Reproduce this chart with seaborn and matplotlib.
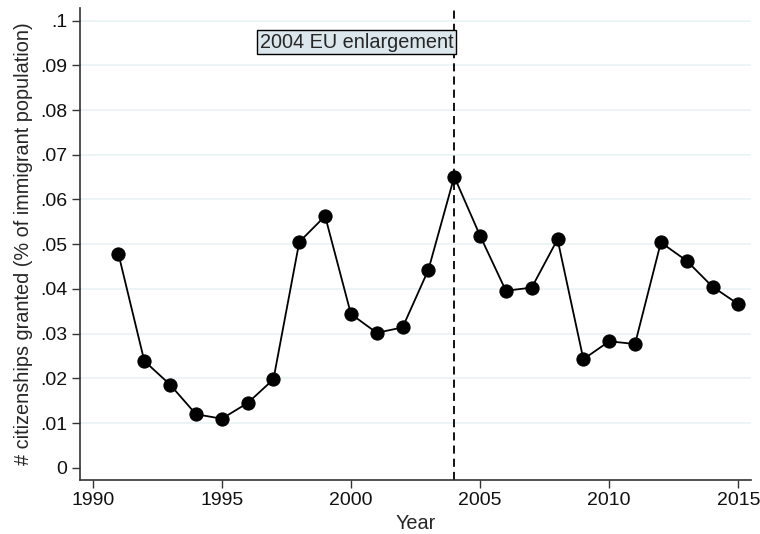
import matplotlib.pyplot as plt
import numpy as np
import pandas as pd
import seaborn as sns

# citizenships granted as share of immigrant population, by year
years = [1991, 1992, 1993, 1994, 1995, 1996, 1997, 1998, 1999, 2000, 2001, 2002, 2003,
         2004, 2005, 2006, 2007, 2008, 2009, 2010, 2011, 2012, 2013, 2014, 2015]
share = [0.0478, 0.0239, 0.0186, 0.0120, 0.0110, 0.0145, 0.0198, 0.0505, 0.0563, 0.0344,
         0.0302, 0.0314, 0.0443, 0.0651, 0.0519, 0.0396, 0.0403, 0.0511, 0.0243, 0.0283,
         0.0277, 0.0504, 0.0463, 0.0405, 0.0366]
x_ticks = [1990, 1995, 2000, 2005, 2010, 2015]
y_ticks = [0, 0.01, 0.02, 0.03, 0.04, 0.05, 0.06, 0.07, 0.08, 0.09, 0.1]
y_tick_labels = ['0', '.01', '.02', '.03', '.04', '.05', '.06', '.07', '.08', '.09', '.1']
event_year = 2004
event_label = '2004 EU enlargement'

df = pd.DataFrame({'Year': years, 'Share': share})

sns.set_style("white")
plt.rcParams['font.family'] = ['Liberation Sans', 'DejaVu Sans']

fig = plt.figure(figsize=(7.6, 5.34), dpi=100)
ax = fig.add_axes([80 / 760, 1 - 480 / 534, 671 / 760, 472 / 534])

# light horizontal grid
for yv in y_ticks[1:]:
    ax.axhline(yv, color='#eaf2f3', lw=1.2, zorder=0)

sns.lineplot(data=df, x='Year', y='Share', ax=ax, color='black', lw=1.3,
             marker='o', markersize=9.5, markeredgecolor='black', zorder=3)

ax.axvline(event_year, color='black', lw=1.3, ls=(0, (4.5, 2.8)), zorder=2)
ax.text(event_year - 0.03, 0.0952, event_label, ha='right', va='center', fontsize=14.3,
        bbox=dict(boxstyle='square,pad=0.13', facecolor='#dbe7ec', edgecolor='black', lw=1.0),
        zorder=4)

ax.set_xlim(1989.51, 2015.49)
ax.set_ylim(-0.0027, 0.1028)
ax.set_xticks(x_ticks)
ax.set_yticks(y_ticks)
ax.set_yticklabels(y_tick_labels)
ax.tick_params(axis='both', direction='out', length=5.5, width=1, color='#333333',
               labelsize=14, labelcolor='#111111', pad=3.5, left=True, bottom=True)
ax.tick_params(axis='x', pad=3)

ax.set_xlabel('Year', fontsize=14.3, labelpad=4)
ax.set_ylabel('# citizenships granted (% of immigrant population)', fontsize=14.3, labelpad=5)

for s in ['top', 'right']:
    ax.spines[s].set_visible(False)
for s in ['left', 'bottom']:
    ax.spines[s].set_color('#333333')
    ax.spines[s].set_linewidth(1.2)

plt.savefig('out.png', dpi=100)
